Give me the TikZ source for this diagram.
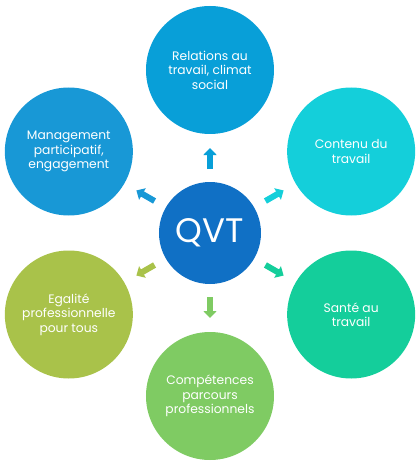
\documentclass[tikz,border=0pt]{standalone}
\usepackage{fontspec}
\setmainfont{Poppins}
\usetikzlibrary{arrows.meta}
\definecolor{hubblue}{RGB}{16,112,197}
\definecolor{relblue}{RGB}{8,159,216}
\definecolor{mgtblue}{RGB}{24,152,214}
\definecolor{workcyan}{RGB}{20,207,218}
\definecolor{healthgreen}{RGB}{20,206,155}
\definecolor{skillgreen}{RGB}{127,203,99}
\definecolor{equalolive}{RGB}{169,194,74}
\tikzset{
	theme/.style={
		circle,
		fill=#1,
		text=white,
		minimum size=128pt,
		inner sep=0pt,
		outer sep=0pt,
		align=center,
		font=\fontsize{12.3}{14.5}\selectfont
	},
	hub/.style={
		circle,
		fill=hubblue,
		text=white,
		minimum size=102pt,
		inner sep=0pt,
		outer sep=0pt,
		font=\fontsize{34}{38}\selectfont
	},
	arrow/.style={
		draw=#1,
		line width=6pt,
		-{Triangle[length=7pt, width=13pt]},
		shorten <=13pt,
		shorten >=14pt
	}
}

\begin{document}
\begin{tikzpicture}[x=1pt, y=1pt]
	\useasboundingbox (-210,-233) rectangle (208,233);

	% nodes
	\node (qvt)     [hub]                           at (0,0)       {QVT};
	\node (rel)     [theme=relblue]                 at (90:163)    {Relations au\\travail, climat\\social};
	\node (work)    [theme=workcyan]                at (30:163)    {Contenu du\\travail};
	\node (health)  [theme=healthgreen]             at (-30:163)   {Santé au\\travail};
	\node (skill)   [theme=skillgreen]              at (-90:163)   {Compétences\\parcours\\professionnels};
	\node (equal)   [theme=equalolive]              at (-150:163)  {Egalité\\professionnelle\\pour tous};
	\node (mgt)     [theme=mgtblue]                 at (150:163)   {Management\\participatif,\\engagement};

	% arrows from the hub
	\draw [arrow=relblue]     (qvt) -- (rel);
	\draw [arrow=workcyan]    (qvt) -- (work);
	\draw [arrow=healthgreen] (qvt) -- (health);
	\draw [arrow=skillgreen]  (qvt) -- (skill);
	\draw [arrow=equalolive]  (qvt) -- (equal);
	\draw [arrow=mgtblue]     (qvt) -- (mgt);

\end{tikzpicture}
\end{document}
